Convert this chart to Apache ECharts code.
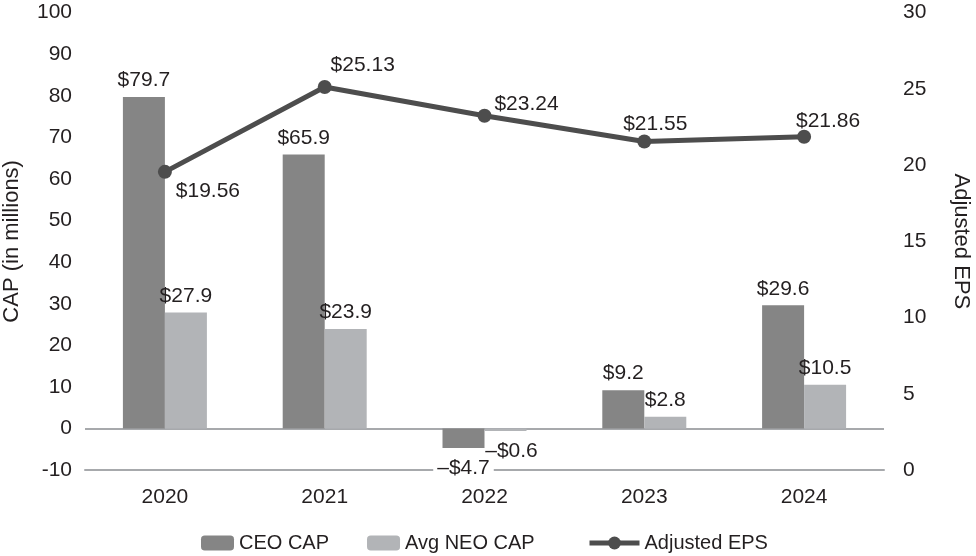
<!DOCTYPE html>
<html>
<head>
<meta charset="utf-8">
<script src="https://cdn.jsdelivr.net/npm/echarts@6/dist/echarts.min.js"></script>
<style>html,body{margin:0;padding:0;background:#fff;}#c{width:976px;height:556px;}</style>
</head>
<body>
<div id="c"></div>
<script>
const years = ['2020', '2021', '2022', '2023', '2024'];
const ceoCap = [79.7, 65.9, -4.7, 9.2, 29.6];
const neoCap = [27.9, 23.9, -0.6, 2.8, 10.5];
const adjEps = [19.56, 25.13, 23.24, 21.55, 21.86];
const epsLabelOffsets = [[43, 19], [38, -22], [42, -12], [11, -17], [24, -16]];

const FONT = 'Liberation Sans';
const TXT = '#231f20';
const FS = 21;

function money(v) {
  return (v < 0 ? '\u2013$' : '$') + Math.abs(v).toFixed(1);
}

const legendText = { fontFamily: FONT, fontSize: 20, color: TXT };

const chart = echarts.init(document.getElementById('c'));
chart.setOption({
  animation: false,
  backgroundColor: '#fff',
  textStyle: { fontFamily: FONT, color: TXT },
  grid: { left: 85, right: 92, top: 12.7, bottom: 86, containLabel: false, outerBoundsMode: 'none' },
  legend: [
    {
      top: 528, left: 196,
      itemWidth: 33, itemHeight: 15, itemGap: 38, itemTextGap: 6,
      textStyle: legendText,
      data: ['CEO CAP', 'Avg NEO CAP']
    },
    {
      top: 528, left: 582,
      itemWidth: 50, itemHeight: 16, itemTextGap: 6,
      textStyle: legendText,
      data: [{ name: 'Adjusted EPS', lineStyle: { width: 5, color: '#4d4d4d' } }]
    }
  ],
  xAxis: {
    type: 'category',
    data: years,
    axisLine: { onZero: false, lineStyle: { color: '#a7a9ac', width: 2 } },
    axisTick: { show: false },
    axisLabel: { fontFamily: FONT, fontSize: FS, color: TXT, margin: 17 }
  },
  yAxis: [
    {
      type: 'value', min: -10, max: 100, interval: 10,
      name: 'CAP (in millions)', nameLocation: 'middle', nameGap: 62, nameRotate: 90,
      nameTextStyle: { fontFamily: FONT, fontSize: 22, color: TXT },
      axisLine: { show: false }, axisTick: { show: false }, splitLine: { show: false },
      axisLabel: { fontFamily: FONT, fontSize: FS, color: TXT, margin: 13 }
    },
    {
      type: 'value', min: 0, max: 30, interval: 5,
      name: 'Adjusted EPS', nameLocation: 'middle', nameGap: 66, nameRotate: -90,
      nameTextStyle: { fontFamily: FONT, fontSize: 22, color: TXT },
      axisLine: { show: false }, axisTick: { show: false }, splitLine: { show: false },
      axisLabel: { fontFamily: FONT, fontSize: FS, color: TXT, margin: 19 }
    }
  ],
  series: [
    {
      name: 'CEO CAP', type: 'bar', yAxisIndex: 0, barWidth: 42, barGap: '0%',
      itemStyle: { color: '#858585' },
      data: ceoCap.map(v => ({
        value: v,
        label: {
          show: true,
          position: v < 0 ? 'bottom' : 'top',
          distance: v < 0 ? 10 : 6,
          formatter: p => money(p.value),
          fontFamily: FONT, fontSize: FS, color: TXT,
          backgroundColor: v < 0 ? '#fff' : 'transparent',
          padding: v < 0 ? [0, 4] : 0
        }
      })),
      markLine: {
        silent: true, symbol: 'none', label: { show: false },
        lineStyle: { color: '#a7a9ac', width: 2, type: 'solid' },
        data: [{ yAxis: 0 }],
        z: 1
      },
      z: 2
    },
    {
      name: 'Avg NEO CAP', type: 'bar', yAxisIndex: 0, barWidth: 42, barGap: '0%',
      itemStyle: { color: '#b2b4b7' },
      data: neoCap.map(v => ({
        value: v,
        label: {
          show: true,
          position: v < 0 ? 'bottom' : 'top',
          distance: v < 0 ? 10 : 6,
          offset: v < 0 ? [6, 0] : [0, 0],
          formatter: p => money(p.value),
          fontFamily: FONT, fontSize: FS, color: TXT
        }
      })),
      z: 2
    },
    {
      name: 'Adjusted EPS', type: 'line', yAxisIndex: 1,
      symbol: 'circle', symbolSize: 14,
      lineStyle: { color: '#4d4d4d', width: 5 },
      itemStyle: { color: '#4d4d4d' },
      data: adjEps.map((v, i) => ({
        value: v,
        label: {
          show: true, position: 'inside', offset: epsLabelOffsets[i],
          formatter: p => '$' + p.value.toFixed(2),
          fontFamily: FONT, fontSize: FS, color: TXT
        }
      })),
      z: 5
    }
  ]
});
</script>
</body>
</html>
